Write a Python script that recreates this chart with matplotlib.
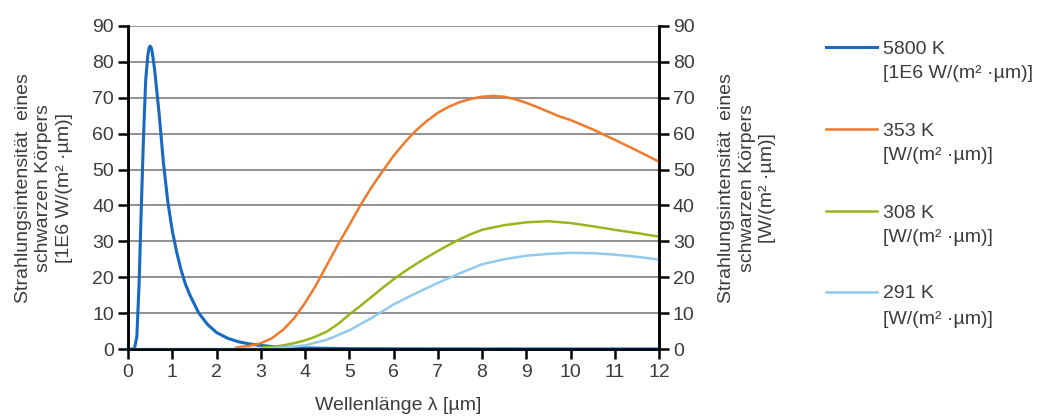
import matplotlib
matplotlib.use("Agg")
import matplotlib.pyplot as plt
from matplotlib.lines import Line2D

plt.rcParams['font.family'] = ['Liberation Sans', 'DejaVu Sans']

# ---- data ----
lam_5800 = [0.0, 0.1, 0.15, 0.2, 0.25, 0.3, 0.35, 0.4, 0.45, 0.475, 0.5, 0.525, 0.55, 0.6, 0.7,
            0.8, 0.9, 1.0, 1.1, 1.2, 1.3, 1.4, 1.6, 1.8, 2.0, 2.25, 2.5, 2.75, 3.0, 3.25,
            3.5, 4.0, 5.0, 6.0, 8.0, 10.0, 12.0]
val_5800 = [0.0, 0.0, 0.4, 3.5, 18, 39, 59, 75, 82.0, 83.8, 84.4, 84.0, 82.5, 78, 66,
            52, 41, 33, 27, 22, 18, 15, 10, 6.8, 4.6, 3.0, 2.0, 1.4, 1.0, 0.7,
            0.5, 0.3, 0.1, 0.05, 0.02, 0.01, 0.0]

lam_353 = [2.45, 2.75, 3.0, 3.25, 3.5, 3.75, 4.0, 4.25, 4.5, 4.75, 5.0, 5.25, 5.5, 5.75,
           6.0, 6.25, 6.5, 6.75, 7.0, 7.25, 7.5, 7.75, 8.0, 8.25, 8.5, 8.75, 9.0, 9.25,
           9.5, 9.75, 10.0, 10.5, 11.0, 11.5, 12.0]
val_353 = [0.4, 0.9, 1.6, 3.0, 5.3, 8.5, 12.8, 17.8, 23.5, 29.2, 34.5, 40.0, 45.0, 49.5,
           53.8, 57.5, 60.8, 63.5, 65.8, 67.5, 68.8, 69.7, 70.3, 70.5, 70.3, 69.6, 68.6, 67.4,
           66.1, 64.8, 63.8, 61.2, 58.3, 55.3, 52.2]

lam_308 = [3.05, 3.25, 3.5, 3.75, 4.0, 4.25, 4.5, 4.75, 5.0, 5.25, 5.5, 5.75, 6.0, 6.25,
           6.5, 6.75, 7.0, 7.25, 7.5, 7.75, 8.0, 8.5, 9.0, 9.5, 10.0, 10.5, 11.0, 11.5, 12.0]
val_308 = [0.5, 0.6, 1.0, 1.6, 2.4, 3.5, 4.9, 7.0, 9.6, 12.0, 14.5, 17.0, 19.4, 21.6,
           23.6, 25.5, 27.3, 29.0, 30.6, 32.0, 33.2, 34.5, 35.3, 35.6, 35.1, 34.2, 33.2, 32.3, 31.3]

lam_291 = [0.0, 0.5, 1.0, 1.5, 2.0, 2.5, 3.0, 3.5, 4.0, 4.5, 5.0, 5.5, 6.0, 6.5, 7.0,
           7.5, 8.0, 8.5, 9.0, 9.5, 10.0, 10.5, 11.0, 11.5, 12.0]
val_291 = [0.0, 0.0, 0.0, 0.0, 0.0, 0.02, 0.1, 0.4, 1.0, 2.6, 5.2, 8.6, 12.4, 15.5, 18.4,
           21.1, 23.6, 25.0, 26.0, 26.5, 26.8, 26.7, 26.3, 25.7, 24.9]

x_ticks = list(range(0, 13))
y_ticks = list(range(0, 100, 10))

labels = ["5800 K", "353 K", "308 K", "291 K"]
units = ["[1E6 W/(m² ·µm)]", "[W/(m² ·µm)]", "[W/(m² ·µm)]", "[W/(m² ·µm)]"]
colors = ["#1769C2", "#EE7A2E", "#98B61C", "#93C9EE"]

ylabel_left = "Strahlungsintensität  eines\nschwarzen Körpers\n[1E6 W/(m² ·µm)]"
ylabel_right = "Strahlungsintensität  eines\nschwarzen Körpers\n[W/(m² ·µm)]"
xlabel = "Wellenlänge λ [µm]"

# ---- figure ----
W, H = 1048, 417
fig = plt.figure(figsize=(W / 100, H / 100), dpi=100)
L, R, T, B = 128, 659, 26, 349
ax = fig.add_axes([L / W, 1 - B / H, (R - L) / W, (B - T) / H])
ax2 = ax.twinx()

txt = "#3C3C3C"
fs = 14

for a in (ax, ax2):
    a.set_xlim(0, 12)
    a.set_ylim(0, 90)
    a.set_yticks(y_ticks)
    a.spines['top'].set_visible(False)
    for s in a.spines.values():
        s.set_linewidth(1.8)
        s.set_color('black')

ax.set_xticks(x_ticks)
ax.yaxis.grid(True, color='#888888', linewidth=1.3)
ax.set_axisbelow(True)
ax.tick_params(axis='both', direction='out', length=7, width=1.8, color='black',
               labelsize=fs, labelcolor=txt)
ax.tick_params(axis='x', pad=4)
ax.tick_params(axis='y', pad=3)
ax2.tick_params(axis='y', direction='out', length=7, width=1.8, color='black',
                labelsize=fs, labelcolor=txt, pad=3)

ax.plot(lam_5800, val_5800, color=colors[0], lw=2.2, zorder=3, clip_on=False)
ax2.plot(lam_353, val_353, color=colors[1], lw=1.8)
ax2.plot(lam_308, val_308, color=colors[2], lw=1.8)
ax2.plot(lam_291, val_291, color=colors[3], lw=1.8)

# axis titles placed in figure pixels
fig.text(398 / W, 1 - 406 / H, xlabel, fontsize=fs, color=txt, ha='center', va='center')
fig.text(44 / W, 1 - 188 / H, ylabel_left, fontsize=fs, color=txt, ha='center', va='center',
         rotation=90, linespacing=1.3, multialignment='center')
fig.text(747 / W, 1 - 188 / H, ylabel_right, fontsize=fs, color=txt, ha='center', va='center',
         rotation=90, linespacing=1.3, multialignment='center')

# ---- legend (manual) ----
leg_y = [47, 129, 211, 292]
for lab, unit, col, yy in zip(labels, units, colors, leg_y):
    fig.add_artist(Line2D([826 / W, 877 / W], [1 - yy / H, 1 - yy / H], color=col,
                          lw=2.2 if col == colors[0] else 1.8, transform=fig.transFigure))
    fig.text(883 / W, 1 - (yy + 2) / H, lab, fontsize=fs, color=txt, va='center', ha='left')
    fig.text(883 / W, 1 - (yy + 27) / H, unit, fontsize=fs, color=txt, va='center', ha='left')

fig.savefig("out.png", dpi=100)
